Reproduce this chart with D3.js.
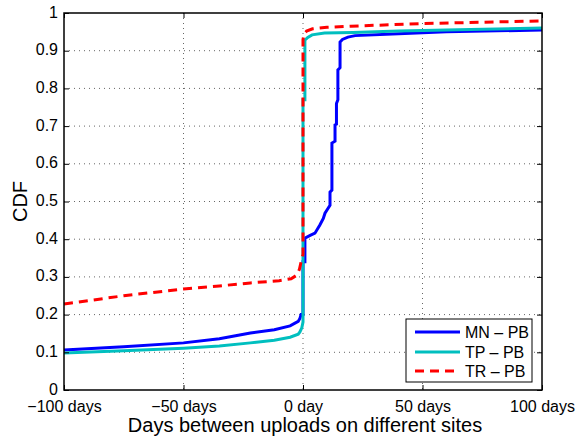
<!DOCTYPE html>
<html><head><meta charset="utf-8">
<script src="https://cdn.jsdelivr.net/npm/d3@7"></script>
<style>body{margin:0;background:#fff;} svg{display:block;font-family:"Liberation Sans",Arial,sans-serif;}</style>
</head><body>
<svg id="c" width="578" height="437"></svg>
<script>
const seriesNames = ["MN \u2013 PB", "TP \u2013 PB", "TR \u2013 PB"];
const seriesColors = ["#0000ff", "#00bfbf", "#ff0000"];
const xTicks = [-100, -50, 0, 50, 100];
const xTickLabels = ["\u2212100 days", "\u221250 days", "0 day", "50 days", "100 days"];
const yTicks = [0, 0.1, 0.2, 0.3, 0.4, 0.5, 0.6, 0.7, 0.8, 0.9, 1];
const yTickLabels = ["0", "0.1", "0.2", "0.3", "0.4", "0.5", "0.6", "0.7", "0.8", "0.9", "1"];

const mnDays = [-100, -75, -50, -35, -22, -12, -5.4, -2, -1.3, -0.8, 0, 0, 0.8, 0.8, 3, 5, 7, 8.5, 9.2, 10.5, 11.3, 11.3, 12.1, 12.1, 13.4, 13.4, 14.0, 14.0, 14.6, 14.6, 15.5, 15.5, 16.5, 18.8, 21.8, 40, 60, 100];
const mnCdf  = [0.106, 0.115, 0.125, 0.136, 0.151, 0.160, 0.170, 0.182, 0.190, 0.200, 0.200, 0.340, 0.340, 0.403, 0.410, 0.416, 0.437, 0.455, 0.469, 0.482, 0.490, 0.525, 0.530, 0.655, 0.660, 0.703, 0.705, 0.760, 0.770, 0.849, 0.855, 0.923, 0.930, 0.936, 0.940, 0.945, 0.950, 0.955];

const tpDays = [-100, -75, -50, -35, -22, -12, -5.4, -2, -1.3, -0.5, 0, 0, 0.8, 0.8, 2, 3.8, 9, 21, 40, 70, 100];
const tpCdf  = [0.098, 0.104, 0.111, 0.117, 0.125, 0.132, 0.140, 0.148, 0.154, 0.165, 0.180, 0.770, 0.770, 0.928, 0.935, 0.942, 0.947, 0.948, 0.952, 0.956, 0.960];

const trDays = [-100, -75, -50, -35, -22, -10, -5, -2.5, -1.5, -0.8, 0, 0, 0.5, 1.5, 4, 10, 20, 50, 100];
const trCdf  = [0.228, 0.250, 0.268, 0.276, 0.284, 0.290, 0.295, 0.305, 0.320, 0.340, 0.360, 0.930, 0.945, 0.952, 0.958, 0.962, 0.965, 0.972, 0.979];

const seriesDays = [mnDays, tpDays, trDays];
const seriesCdf = [mnCdf, tpCdf, trCdf];

const svg = d3.select("#c");
const L = 64, R = 542, T = 13, B = 390;
const x = d3.scaleLinear().domain([-100, 100]).range([L, R]);
const y = d3.scaleLinear().domain([0, 1]).range([B, T]);

// grid
const g = svg.append("g");
g.selectAll(".gx").data(xTicks.slice(1, -1)).enter().append("line")
  .attr("x1", d => x(d)).attr("x2", d => x(d)).attr("y1", T).attr("y2", B)
  .attr("stroke", "#666").attr("stroke-width", 1).attr("stroke-dasharray", "1,4");
g.selectAll(".gy").data(yTicks.slice(1, -1)).enter().append("line")
  .attr("y1", d => y(d)).attr("y2", d => y(d)).attr("x1", L).attr("x2", R)
  .attr("stroke", "#666").attr("stroke-width", 1).attr("stroke-dasharray", "1,4");

// lines
const line = d3.line().x(d => x(d[0])).y(d => y(d[1]));
[0, 1, 2].forEach(i => {
  const pts = seriesDays[i].map((d, k) => [d, seriesCdf[i][k]]);
  svg.append("path").datum(pts).attr("d", line).attr("fill", "none")
    .attr("stroke", seriesColors[i]).attr("stroke-width", 3)
    .attr("stroke-dasharray", i === 2 ? "9,6" : null);
});

// axes (ticks inside)
const fs = 16;
const xAxisB = d3.axisBottom(x).tickValues(xTicks).tickSize(-5).tickFormat((d, i) => xTickLabels[i]).tickPadding(11);
const xAxisT = d3.axisTop(x).tickValues(xTicks).tickSize(-5).tickFormat("");
const yAxisL = d3.axisLeft(y).tickValues(yTicks).tickSize(-5).tickFormat((d, i) => yTickLabels[i]).tickPadding(6);
const yAxisR = d3.axisRight(y).tickValues(yTicks).tickSize(-5).tickFormat("");
function style(sel) {
  sel.select(".domain").attr("stroke", "#000").attr("stroke-width", 1.5);
  sel.selectAll(".tick line").attr("stroke", "#000");
  sel.selectAll(".tick text").attr("fill", "#000").style("font-size", fs + "px").style("font-family", "'Liberation Sans',Arial,sans-serif");
}
svg.append("g").attr("transform", `translate(0,${B})`).call(xAxisB).call(style);
svg.append("g").attr("transform", `translate(0,${T})`).call(xAxisT).call(style);
svg.append("g").attr("transform", `translate(${L},0)`).call(yAxisL).call(style)
  .selectAll(".tick text").attr("dy", "0.25em");
svg.append("g").attr("transform", `translate(${R},0)`).call(yAxisR).call(style);
svg.selectAll(".domain").attr("d", null);
svg.append("rect").attr("x", L).attr("y", T).attr("width", R - L).attr("height", B - T)
  .attr("fill", "none").attr("stroke", "#000").attr("stroke-width", 1.5);

// axis titles
svg.append("text").attr("x", (L + R) / 2 + 2).attr("y", 432).attr("text-anchor", "middle")
  .style("font-size", "20px").text("Days between uploads on different sites");
svg.append("text").attr("transform", `translate(27,${(T + B) / 2}) rotate(-90)`).attr("text-anchor", "middle")
  .style("font-size", "20px").text("CDF");

// legend
const lg = svg.append("g");
lg.append("rect").attr("x", 406).attr("y", 319).attr("width", 126).attr("height", 63)
  .attr("fill", "#fff").attr("stroke", "#000").attr("stroke-width", 1);
const ly = [332, 352, 371];
seriesNames.forEach((n, i) => {
  lg.append("line").attr("x1", 415).attr("x2", 460).attr("y1", ly[i]).attr("y2", ly[i])
    .attr("stroke", seriesColors[i]).attr("stroke-width", 3)
    .attr("stroke-dasharray", i === 2 ? "9,6" : null);
  lg.append("text").attr("x", 465).attr("y", ly[i] + 6).style("font-size", "16px").text(n);
});
</script>
</body></html>
